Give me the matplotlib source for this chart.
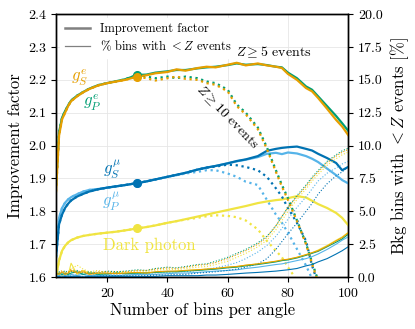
import matplotlib
matplotlib.use("Agg")
import matplotlib.pyplot as plt
import numpy as np
from matplotlib.lines import Line2D

plt.rcParams["font.family"] = "serif"
plt.rcParams["font.serif"] = ["cmr10"]
plt.rcParams["mathtext.fontset"] = "cm"
plt.rcParams["axes.formatter.use_mathtext"] = True
plt.rcParams["axes.linewidth"] = 1.0

nan = np.nan

# number of bins per angle
n_bins = [3, 4, 5, 6, 7, 8, 10, 12, 14, 17, 20, 23, 26, 30, 33, 36, 40, 43, 46, 50,
          53, 56, 60, 63, 66, 70, 73, 76, 78, 80, 83, 86, 88, 90, 93, 96, 98, 100]

# improvement factor, Z >= 5 (thick solid)
gSe_imp5 = [1.86, 2.03, 2.08, 2.10, 2.12, 2.135, 2.15, 2.162, 2.172, 2.183, 2.19, 2.195, 2.20, 2.21,
            2.214, 2.22, 2.224, 2.232, 2.228, 2.236, 2.24, 2.238, 2.246, 2.252, 2.244, 2.25, 2.244, 2.24,
            2.236, 2.218, 2.20, 2.175, 2.165, 2.145, 2.112, 2.078, 2.058, 2.032]
gPe_imp5 = [1.88, 2.04, 2.085, 2.105, 2.122, 2.137, 2.152, 2.163, 2.173, 2.184, 2.19, 2.196, 2.202, 2.215,
            2.216, 2.222, 2.226, 2.23, 2.23, 2.235, 2.238, 2.24, 2.245, 2.25, 2.246, 2.248, 2.245, 2.24,
            2.238, 2.222, 2.205, 2.18, 2.17, 2.15, 2.12, 2.09, 2.068, 2.045]
gSm_imp5 = [1.66, 1.76, 1.79, 1.81, 1.823, 1.833, 1.845, 1.853, 1.86, 1.867, 1.872, 1.876, 1.88, 1.886,
            1.891, 1.897, 1.905, 1.911, 1.917, 1.927, 1.933, 1.938, 1.946, 1.953, 1.958, 1.968, 1.984, 1.99,
            1.993, 1.995, 1.997, 1.99, 1.985, 1.975, 1.962, 1.947, 1.925, 1.935]
gPm_imp5 = [1.68, 1.78, 1.81, 1.826, 1.836, 1.843, 1.852, 1.86, 1.865, 1.868, 1.872, 1.876, 1.88, 1.886,
            1.891, 1.897, 1.905, 1.911, 1.917, 1.927, 1.933, 1.938, 1.946, 1.952, 1.957, 1.965, 1.975, 1.978,
            1.974, 1.979, 1.976, 1.968, 1.96, 1.95, 1.93, 1.91, 1.895, 1.885]
dp_imp5 = [1.60, 1.65, 1.68, 1.695, 1.705, 1.712, 1.72, 1.725, 1.728, 1.732, 1.735, 1.738, 1.742, 1.748,
           1.752, 1.757, 1.765, 1.77, 1.776, 1.784, 1.79, 1.796, 1.804, 1.81, 1.816, 1.825, 1.83, 1.834,
           1.836, 1.84, 1.846, 1.842, 1.832, 1.822, 1.81, 1.795, 1.78, 1.758]

# improvement factor, Z >= 10 (thick dotted)
gSe_imp10 = [1.86, 2.03, 2.08, 2.10, 2.12, 2.135, 2.15, 2.162, 2.172, 2.183, 2.19, 2.195, 2.20, 2.21,
             2.205, 2.198, 2.205, 2.21, 2.203, 2.20, 2.19, 2.185, 2.165, 2.12, 2.095, 2.05, 1.99, 1.92,
             1.875, 1.835, 1.77, 1.70, 1.64, 1.585, nan, nan, nan, nan]
gPe_imp10 = [1.88, 2.04, 2.085, 2.105, 2.122, 2.137, 2.152, 2.163, 2.173, 2.184, 2.19, 2.196, 2.202, 2.215,
             2.21, 2.205, 2.21, 2.205, 2.21, 2.205, 2.195, 2.19, 2.17, 2.125, 2.10, 2.055, 1.995, 1.925,
             1.88, 1.84, 1.772, 1.702, 1.645, 1.59, nan, nan, nan, nan]
gSm_imp10 = [1.66, 1.76, 1.79, 1.81, 1.823, 1.833, 1.845, 1.853, 1.86, 1.867, 1.872, 1.876, 1.88, 1.886,
             1.891, 1.897, 1.905, 1.911, 1.917, 1.927, 1.933, 1.936, 1.942, 1.94, 1.935, 1.925, 1.905, 1.87,
             1.845, 1.81, 1.765, 1.71, 1.635, 1.58, nan, nan, nan, nan]
gPm_imp10 = [1.68, 1.78, 1.81, 1.826, 1.836, 1.843, 1.852, 1.86, 1.865, 1.868, 1.872, 1.876, 1.88, 1.886,
             1.891, 1.897, 1.905, 1.91, 1.915, 1.92, 1.925, 1.925, 1.915, 1.905, 1.89, 1.88, 1.835, 1.79,
             1.765, 1.735, 1.685, 1.635, 1.595, 1.56, nan, nan, nan, nan]
dp_imp10 = [1.60, 1.65, 1.68, 1.695, 1.705, 1.712, 1.72, 1.725, 1.728, 1.732, 1.735, 1.738, 1.742, 1.748,
            1.752, 1.757, 1.765, 1.77, 1.775, 1.78, 1.785, 1.788, 1.786, 1.782, 1.772, 1.745, 1.71, 1.68,
            1.66, 1.63, 1.59, nan, nan, nan, nan, nan, nan, nan]

# % bkg bins with < 5 events (thin solid)
gSe_lt5 = [0.3, 0.2, 0.4, 0.2, 0.3, 0.5, 0.3, 0.4, 0.2, 0.3, 0.3, 0.25, 0.3, 0.35, 0.3, 0.4, 0.45, 0.45,
           0.5, 0.55, 0.6, 0.65, 0.75, 0.8, 0.9, 1.0, 1.1, 1.2, 1.3, 1.35, 1.5, 1.7, 1.85, 2.0, 2.35, 2.75,
           3.0, 3.35]
gPe_lt5 = [0.2, 0.3, 0.2, 0.3, 0.2, 0.3, 0.4, 0.2, 0.3, 0.2, 0.25, 0.3, 0.25, 0.3, 0.3, 0.35, 0.4, 0.4,
           0.45, 0.5, 0.55, 0.6, 0.7, 0.75, 0.85, 0.95, 1.05, 1.15, 1.25, 1.3, 1.45, 1.65, 1.8, 1.95, 2.3,
           2.65, 2.9, 3.25]
gSm_lt5 = [0.0, 0.05, 0.0, 0.05, 0.0, 0.05, 0.05, 0.0, 0.05, 0.05, 0.05, 0.05, 0.05, 0.05, 0.05, 0.05,
           0.1, 0.1, 0.1, 0.1, 0.15, 0.15, 0.2, 0.25, 0.3, 0.35, 0.4, 0.45, 0.5, 0.55, 0.65, 0.85, 0.95,
           1.15, 1.4, 1.75, 2.0, 2.3]
gPm_lt5 = [0.1, 0.1, 0.2, 0.1, 0.1, 0.2, 0.1, 0.2, 0.1, 0.1, 0.15, 0.1, 0.15, 0.2, 0.2, 0.2, 0.25, 0.3,
           0.3, 0.35, 0.4, 0.45, 0.5, 0.55, 0.65, 0.75, 0.85, 0.95, 1.0, 1.1, 1.25, 1.4, 1.55, 1.75, 2.1,
           2.5, 2.8, 3.05]
dp_lt5 = [0.1, 0.2, 0.1, 0.2, 0.1, 1.05, 0.2, 0.5, 0.3, 0.3, 0.2, 0.3, 0.3, 0.3, 0.35, 0.35, 0.4, 0.45,
          0.5, 0.55, 0.6, 0.65, 0.75, 0.8, 0.9, 1.0, 1.1, 1.2, 1.25, 1.35, 1.5, 1.7, 1.85, 2.05, 2.4, 2.8,
          3.05, 3.4]

# % bkg bins with < 10 events (thin dotted)
gSe_lt10 = [0.4, 0.3, 0.5, 0.3, 0.4, 0.6, 0.4, 0.5, 0.3, 0.4, 0.4, 0.35, 0.4, 0.5, 0.5, 0.6, 0.7, 0.65,
            0.75, 0.9, 0.95, 1.1, 1.4, 1.7, 2.0, 2.5, 3.0, 3.9, 4.6, 5.3, 6.1, 6.9, 7.5, 8.0, 8.7, 9.2,
            9.5, 9.7]
gPe_lt10 = [0.3, 0.4, 0.3, 0.5, 0.3, 0.4, 0.5, 0.3, 0.4, 0.3, 0.45, 0.4, 0.45, 0.55, 0.5, 0.65, 0.75,
            0.7, 0.8, 0.95, 1.0, 1.2, 1.5, 1.8, 2.1, 2.6, 3.1, 3.9, 4.6, 5.3, 6.2, 7.0, 7.6, 8.1, 8.8, 9.3,
            9.6, 9.8]
gSm_lt10 = [0.0, 0.05, 0.0, 0.05, 0.05, 0.05, 0.05, 0.05, 0.05, 0.05, 0.1, 0.1, 0.1, 0.1, 0.1, 0.15,
            0.15, 0.2, 0.2, 0.3, 0.35, 0.4, 0.5, 0.6, 0.75, 1.0, 1.4, 2.1, 2.7, 3.3, 4.1, 5.0, 5.6, 6.3,
            7.1, 7.7, 8.0, 8.4]
gPm_lt10 = [0.1, 0.2, 0.1, 0.2, 0.2, 0.1, 0.2, 0.2, 0.1, 0.2, 0.2, 0.2, 0.25, 0.25, 0.3, 0.3, 0.35, 0.4,
            0.4, 0.5, 0.6, 0.7, 0.9, 1.1, 1.4, 1.9, 2.4, 3.1, 3.7, 4.4, 5.3, 6.1, 6.7, 7.3, 7.9, 8.3, 8.6,
            8.8]
dp_lt10 = [0.2, 0.3, 0.2, 0.3, 0.2, 0.6, 0.9, 0.6, 0.4, 0.5, 0.3, 0.4, 0.4, 0.45, 0.4, 0.5, 0.6, 0.55,
           0.65, 0.75, 0.8, 0.95, 1.2, 1.5, 1.8, 2.3, 2.8, 3.6, 4.3, 5.0, 5.9, 6.7, 7.3, 7.8, 8.5, 9.0, 9.3,
           9.5]

models = [
    ("Dark photon", "#F0E442", dp_imp5, dp_imp10, dp_lt5, dp_lt10),
    (r"$g_P^\mu$", "#56B4E9", gPm_imp5, gPm_imp10, gPm_lt5, gPm_lt10),
    (r"$g_S^\mu$", "#0072B2", gSm_imp5, gSm_imp10, gSm_lt5, gSm_lt10),
    (r"$g_P^e$", "#009E73", gPe_imp5, gPe_imp10, gPe_lt5, gPe_lt10),
    (r"$g_S^e$", "#E69F00", gSe_imp5, gSe_imp10, gSe_lt5, gSe_lt10),
]

fig = plt.figure(figsize=(4.15, 3.29), dpi=100)
ax = fig.add_axes([0.135, 0.158, 0.704, 0.799])
ax2 = ax.twinx()

i30 = n_bins.index(30)
for name, c, imp5, imp10, lt5, lt10 in models:
    ax.plot(n_bins, imp5, color=c, lw=1.6, zorder=3)
    ax.plot(n_bins, imp10, color=c, lw=1.6, ls=":", zorder=3)
    ax.plot(n_bins[i30], imp5[i30], "o", color=c, ms=5.5, zorder=4)
    ax2.plot(n_bins, lt5, color=c, lw=0.8)
    ax2.plot(n_bins, lt10, color=c, lw=0.8, ls=":")

ax.set_xlim(3, 100)
ax.set_ylim(1.6, 2.4)
ax2.set_ylim(0, 20)
ax.set_xticks([20, 40, 60, 80, 100])
ax.set_yticks(np.arange(1.6, 2.41, 0.1))
ax2.set_yticks(np.arange(0, 20.1, 2.5))
ax.yaxis.set_major_formatter(matplotlib.ticker.FormatStrFormatter("%.1f"))
ax2.yaxis.set_major_formatter(matplotlib.ticker.FormatStrFormatter("%.1f"))
ax.grid(True, color="#e6e6e6", lw=0.6)
ax.set_axisbelow(True)

ax.tick_params(labelsize=10)
ax2.tick_params(labelsize=10)
ax.set_xlabel("Number of bins per angle", fontsize=12, labelpad=2)
ax.set_ylabel("Improvement factor", fontsize=12, labelpad=4)
ax2.set_ylabel(r"Bkg bins with $< Z$ events [%]", fontsize=12, labelpad=4)

# model labels
ax.text(11, 2.205, r"$g_S^e$", color="#E69F00", fontsize=12, ha="center", va="center")
ax.text(15, 2.13, r"$g_P^e$", color="#009E73", fontsize=12, ha="center", va="center")
ax.text(21.5, 1.925, r"$g_S^\mu$", color="#0072B2", fontsize=12, ha="center", va="center")
ax.text(21.5, 1.83, r"$g_P^\mu$", color="#56B4E9", fontsize=12, ha="center", va="center")
ax.text(34, 1.697, "Dark photon", color="#F0E442", fontsize=12, ha="center", va="center")
ax.text(75, 2.284, r"$Z \geq 5$ events", fontsize=10, ha="center", va="center")
ax.text(59.8, 2.087, r"$Z \geq 10$ events", fontsize=10, ha="center", va="center", rotation=-46)

handles = [Line2D([], [], color="gray", lw=1.8), Line2D([], [], color="gray", lw=0.9)]
leg = ax2.legend(handles, ["Improvement factor", r"% bins with $< Z$ events"], loc="upper left",
                 fontsize=9, frameon=True, framealpha=1, edgecolor="white", borderaxespad=0.3,
                 handlelength=2.0, labelspacing=0.3)

fig.savefig("out.png", dpi=100)
